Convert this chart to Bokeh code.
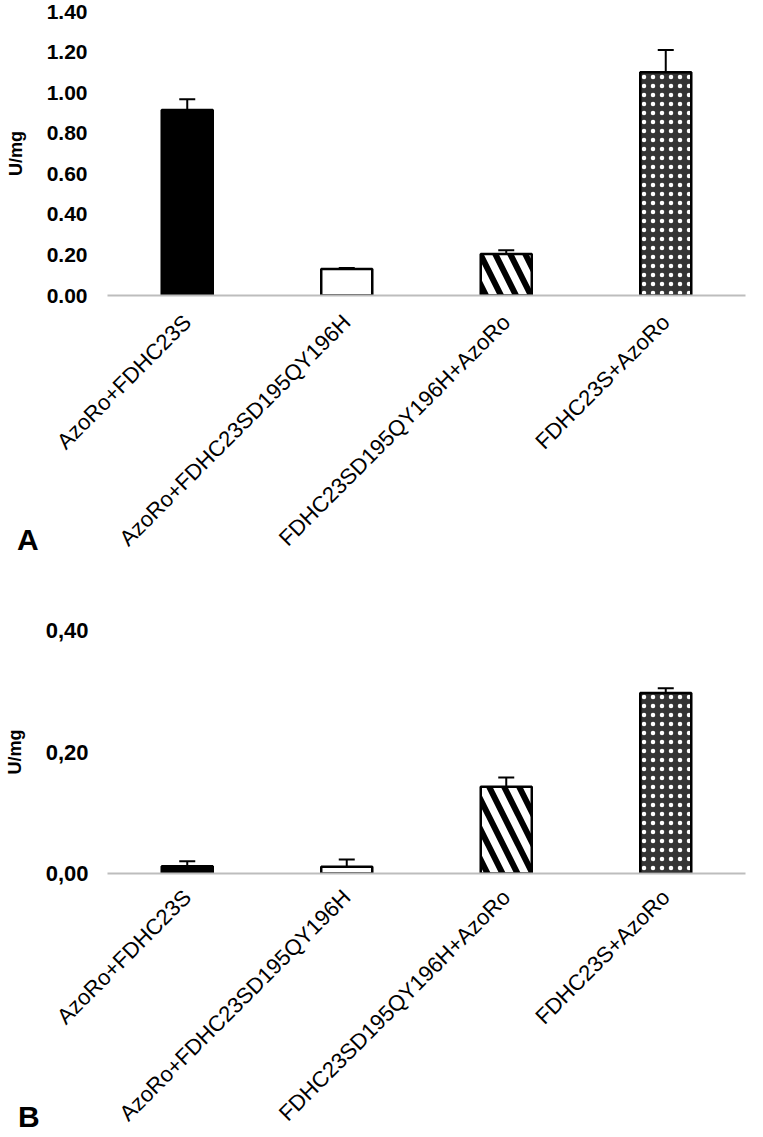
import math
from bokeh.plotting import figure
from bokeh.models import (ColumnDataSource, FactorRange, Range1d, FixedTicker, Whisker,
                          TeeHead, NumeralTickFormatter, CustomJSTickFormatter, Div, GridBox)
from bokeh.embed import file_html
from bokeh.resources import INLINE

# ---- data ----
categories = ["AzoRo+FDHC23S", "AzoRo+FDHC23SD195QY196H",
              "FDHC23SD195QY196H+AzoRo", "FDHC23S+AzoRo"]
a_values = [0.915, 0.131, 0.205, 1.100]
a_errors = [0.052, 0.004, 0.018, 0.110]
b_values = [0.012, 0.011, 0.143, 0.297]
b_errors = [0.008, 0.012, 0.015, 0.008]
a_ticks = [0.0, 0.2, 0.4, 0.6, 0.8, 1.0, 1.2, 1.4]
b_ticks = [0.0, 0.2, 0.4]

# ---- styles ----
fills = ["black", "white", "white", "#353535"]
patterns = [" ", " ", "left_diagonal_line", "dot"]
hatch_colors = ["black", "black", "black", "white"]
hatch_scales = [10, 10, 30, 9]
hatch_weights = [1, 1, 6, 2]

FONT = "Liberation Sans"


def make_panel(values, errors, ticks, ymax, decimal_comma, xstandoff, ystandoff,
               width, height, mbl, mbr, mbt, mbb):
    src = ColumnDataSource(dict(
        cat=categories, val=values,
        lo=[v - e for v, e in zip(values, errors)],
        hi=[v + e for v, e in zip(values, errors)],
        fill=fills, pat=patterns, hcol=hatch_colors,
        hscale=hatch_scales, hweight=hatch_weights))
    p = figure(x_range=FactorRange(*categories), y_range=Range1d(0, ymax),
               width=width, height=height, output_backend="svg",
               toolbar_location=None, min_border_left=mbl, min_border_right=mbr,
               min_border_top=mbt, min_border_bottom=mbb)
    p.vbar(x="cat", top="val", width=0.32, source=src, fill_color="fill",
           hatch_pattern="pat", hatch_color="hcol", hatch_scale="hscale",
           hatch_weight="hweight", line_color="black", line_width=2.5)
    w = Whisker(base="cat", upper="hi", lower="lo", source=src,
                line_color="black", line_width=2,
                upper_head=TeeHead(size=16, line_color="black", line_width=2),
                lower_head=TeeHead(size=16, line_color="black", line_width=2))
    p.add_layout(w)

    p.outline_line_color = None
    p.xgrid.visible = False
    p.ygrid.visible = False

    xa = p.xaxis[0]
    xa.axis_line_color = "#bdbdbd"
    xa.axis_line_width = 2
    xa.major_tick_line_color = None
    xa.major_tick_out = 0
    xa.major_tick_in = 0
    xa.major_label_orientation = math.pi / 4
    xa.major_label_text_font = FONT
    xa.major_label_text_font_size = "22px"
    xa.major_label_text_color = "black"
    xa.major_label_standoff = xstandoff

    ya = p.yaxis[0]
    ya.axis_line_color = None
    ya.major_tick_line_color = None
    ya.minor_tick_line_color = None
    ya.major_tick_out = 0
    ya.major_tick_in = 0
    ya.ticker = FixedTicker(ticks=ticks)
    if decimal_comma:
        ya.formatter = CustomJSTickFormatter(code="return tick.toFixed(2).replace('.', ',');")
        ya.major_label_text_font_size = "22px"
    else:
        ya.formatter = NumeralTickFormatter(format="0.00")
        ya.major_label_text_font_size = "21px"
    ya.major_label_text_font = FONT
    ya.major_label_text_font_style = "bold"
    ya.major_label_text_color = "black"
    ya.major_label_standoff = ystandoff
    ya.axis_label = "U/mg"
    ya.axis_label_text_font = FONT
    ya.axis_label_text_font_size = "18px"
    ya.axis_label_text_font_style = "bold"
    ya.axis_label_text_color = "black"
    ya.axis_label_standoff = 18
    return p


def letter(text, top, left, height):
    return Div(text=text, width=40, height=height, margin=(top, 0, 0, left),
               styles={"font-size": "30px", "font-weight": "bold",
                       "font-family": FONT, "line-height": "24px",
                       "color": "black", "background": "transparent"})


pa = make_panel(a_values, a_errors, a_ticks, 1.4, False, 23, 20,
                width=760, height=575, mbl=104, mbr=7, mbt=11, mbb=280)
pb = make_panel(b_values, b_errors, b_ticks, 0.4, True, 20, 19,
                width=760, height=562, mbl=107, mbr=15, mbt=55, mbb=264)

da = letter("A", 528, 17, 24)
db = letter("B", 530, 18, 24)

grid = GridBox(children=[(pa, 0, 0), (da, 0, 0), (pb, 1, 0), (db, 1, 0)], spacing=0)
open("out.html", "w").write(file_html(grid, INLINE))
